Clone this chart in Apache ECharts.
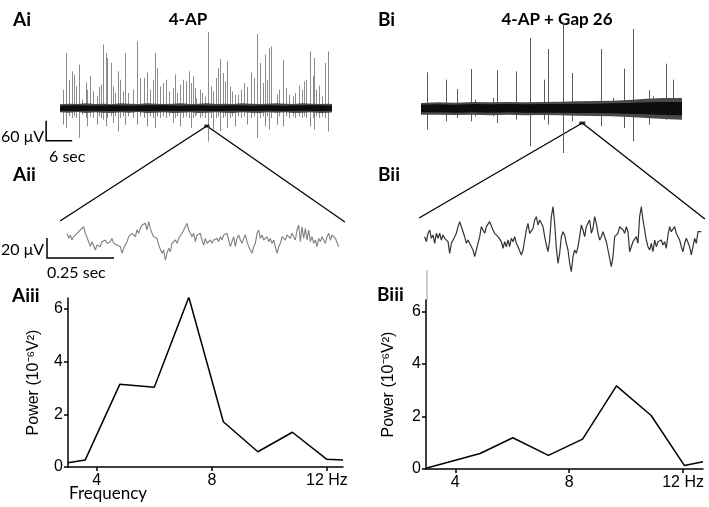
<!DOCTYPE html>
<html><head><meta charset="utf-8">
<script src="https://cdn.jsdelivr.net/npm/echarts@6/dist/echarts.min.js"></script>
<style>html,body{margin:0;padding:0;background:#fff}#c{width:709px;height:507px}</style>
</head><body><div id="c"></div>
<script>
// ---------- Ai : 4-AP long trace (time s, µV) ----------
const aSpikeT = [0.8,1.4,2.1,2.7,3.2,3.8,4.4,5.0,5.9,6.3,6.9,7.7,8.5,9.0,9.4,10.0,10.6,10.9,11.7,12.2,12.7,13.5,13.8,14.6,15.0,15.8,16.8,17.8,18.5,19.4,20.0,20.8,21.4,21.9,22.5,23.1,23.8,24.5,25.2,26.0,26.5,27.1,27.7,28.5,29.1,29.8,30.2,30.6,31.2,31.5,32.3,32.9,33.5,34.1,34.8,35.4,36.0,36.5,36.9,37.7,38.1,38.6,39.2,39.8,40.4,41.2,41.7,42.5,43.2,44.2,44.8,45.4,46.2,46.8,47.3,47.8,48.3,48.8,50.0,50.6,51.4,52.2,52.9,53.7,54.2,55.2,55.8,56.3,56.9,57.8,58.3,58.6,59.2,59.8,60.6,61.2,61.9];
const aSpikeUp = [55,165,85,110,100,65,130,25,77,55,97,50,37,63,70,190,165,150,135,65,45,110,85,50,165,45,55,200,90,90,107,55,85,165,120,65,75,85,50,60,100,45,70,85,80,110,75,95,60,30,55,45,35,228,65,50,90,120,147,105,80,140,65,50,40,40,55,75,63,107,90,222,135,75,160,85,180,185,40,55,145,60,40,35,45,67,55,80,85,170,95,150,55,67,35,135,170];
const aSpikeDown = [-50,-60,-25,-30,-25,-30,-90,-20,-30,-55,-25,-30,-50,-25,-30,-35,-55,-30,-25,-45,-25,-70,-30,-25,-50,-25,-30,-50,-25,-30,-55,-25,-30,-60,-25,-30,-25,-30,-25,-45,-30,-25,-55,-30,-25,-30,-60,-30,-25,-20,-30,-25,-30,-100,-30,-65,-30,-25,-70,-30,-25,-60,-30,-25,-55,-25,-30,-25,-50,-30,-25,-90,-30,-25,-55,-25,-65,-30,-50,-25,-55,-25,-30,-25,-30,-25,-30,-25,-30,-55,-30,-65,-25,-30,-25,-30,-70];
const aBandT = [0,2,4,6,8,10,12,14,16,18,20,22,24,26,28,30,32,34,36,38,40,42,44,46,48,50,52,54,56,58,60,62,62.8];
const aBandHi = [11,13,12,14,12,13,11,14,13,12,14,13,12,13,14,12,13,14,12,13,12,14,13,12,13,14,13,12,14,13,12,13,12];
const aBandLo = [-13,-14,-12,-15,-13,-14,-15,-13,-14,-12,-15,-14,-13,-15,-14,-13,-15,-14,-13,-14,-15,-13,-14,-15,-13,-14,-13,-15,-14,-13,-15,-14,-13];
const aCoreT = [0,4,8,12,16,20,24,28,32,36,40,44,48,52,56,60,62.8];
const aCoreHi = [7,8,7,8,7,8,8,7,8,7,8,7,8,7,8,8,7];
const aCoreLo = [-8,-9,-8,-9,-8,-9,-8,-9,-8,-9,-8,-9,-8,-9,-8,-9,-8];

// ---------- Bi : 4-AP + Gap 26 long trace ----------
const bSpikeT = [1.3,5.7,8.2,11.5,12.5,16.7,17.6,21.8,25.2,28.4,29.2,32.7,32.8,34.8,41.5,44.4,46.9,48.8,52.5,53.6,56.5,58.1];
const bSpikeUp = [107,85,57,117,25,30,113,110,210,85,177,130,257,105,177,30,118,237,53,35,133,85];
const bSpikeDown = [-65,-40,-30,-40,-25,-25,-45,-35,-115,-35,-50,-60,-135,-40,-55,-25,-60,-100,-50,-30,-35,-20];
const bBandT = [0,4,8,12,16,20,24,28,32,36,40,44,48,52,56,60.2];
const bBandHi = [15,17,16,18,17,18,17,18,19,20,21,22,24,28,30,30];
const bBandLo = [-20,-20,-21,-20,-22,-20,-22,-21,-22,-23,-24,-25,-27,-30,-33,-35];
const bCoreHi = [10,11,10,12,11,12,11,12,12,13,13,14,15,17,18,18];
const bCoreLo = [-13,-13,-14,-13,-14,-13,-14,-14,-14,-15,-15,-16,-17,-19,-21,-22];

// ---------- Aii / Bii : expanded 1 s traces (µV) ----------
const sampleDt = 0.00622; // s between samples
const aiiValues = [6.7,1.7,5,0,3.3,1.7,6.7,5,10,11.7,13.3,6.7,5,-1.7,-6.7,-1.7,-3.3,-10,-5,-3.3,-6.7,-1.7,-3.3,0,-3.3,-1.7,-1.7,1.7,-3.3,-1.7,-5,-3.3,-6.7,-13.3,-8.3,-6.7,-1.7,3.3,1.7,6.7,8.3,3.3,10,6.7,11.7,15,13.3,16.7,10,18.3,11.7,6.7,3.3,5,1.7,-5,-6.7,-13.3,-10,-20,-13.3,-8.3,-11.7,-3.3,-5,0,-3.3,1.7,0,6.7,5,13.3,16.7,10,6.7,3.3,6.7,-1.7,5,3.3,6.7,0,-5,
1.7,-3.3,-1.7,0,-3.3,0,-1.7,1.7,-1.7,3.3,0,5,3.3,6.7,0,-6.7,-1.7,3.3,-6.7,1.7,5,0,-3.3,1.7,5,-1.7,-6.7,-5,-13.3,-6.7,-3.3,6.7,10,1.7,5,0,0,3.3,-1.7,1.7,-3.3,0,-6.7,-13.3,-6.7,-3.3,3.3,1.7,0,5,3.3,1.7,6.7,3.3,0,10,15,-1.7,13.3,1.7,11.7,0,10,-1.7,3.3,-3.3,0,-6.7,1.7,-1.7,3.3,0,-3.3,3.3,6.7,0,5,6.7,1.7,1.7,-6.7];
const biiValues = [3.3,-1.7,6.7,10,1.7,5,-3.3,6.7,1.7,6.7,0,5,1.7,3.3,-1.7,-13.3,-3.3,0,3.3,6.7,13.3,18.3,16.7,8.3,3.3,-3.3,0,-3.3,-6.7,-10,-16.7,-10,-8.3,3.3,13.3,10,6.7,13.3,11.7,18.3,16.7,10,6.7,5,3.3,1.7,-1.7,-8.3,-1.7,-6.7,0,-6.7,1.7,-1.7,3.3,-3.3,-6.7,-8.3,-15,-10,0,10,16.7,6.7,8.3,11.7,20,23.3,15,20,16.7,13.3,3.3,-5,-11.7,0,23.3,33.3,16.7,-8.3,-23.3,-13.3,3.3,8.3,
5,-3.3,-10,-23.3,-31.7,-16.7,-10,-13.3,-6.7,3.3,15,10,3.3,13.3,16.7,20,6.7,11.7,23.3,16.7,6.7,0,3.3,8.3,3.3,-1.7,-10,-18.3,-26.7,-16.7,3.3,5,6.7,13.3,15,10,6.7,13.3,8.3,-11.7,-6.7,-1.7,-3.3,3.3,-3.3,23.3,33.3,20,10,0,-6.7,-10,-3.3,-11.7,0,-6.7,-1.7,-3.3,0,-5,-1.7,-8.3,5,13.3,8.3,6.7,13.3,6.7,5,0,-6.7,-11.7,-3.3,1.7,0,-6.7,-15,-6.7,1.7,-3.3,8.3,6.7,8.3];

// ---------- Aiii / Biii : power spectra ----------
const freqA = [3.0,3.6,4.8,6.0,7.2,8.4,9.6,10.8,12.0,12.56];
const powerA = [0.16,0.27,3.14,3.03,6.45,1.72,0.58,1.32,0.29,0.27];
const freqB = [3.0,4.87,6.02,7.27,8.47,9.66,10.88,12.05,12.7];
const powerB = [0.04,0.59,1.19,0.52,1.14,3.17,2.04,0.13,0.28];
const freqTicks = [4,8,12];
const powerTicks = [0,2,4,6];

// ---------- markers / zoom links / scale bars (data coords) ----------
const aMarker = [33.9,-54], bMarker = [37.2,-45];
const aiiEnds = [[-0.026,19],[1.037,18]], biiEnds = [[-0.021,22],[1.046,21]];
const aiScaleBar = [[-3.2,-38],[-3.2,-98],[2.8,-98]];      // 60 µV, 6 s
const aiiScaleBar = [[-0.0746,2],[-0.0746,-18],[0.1754,-18]]; // 20 µV, 0.25 s
const biiFragment = [[0.0086,-30],[0.0086,-60]];

const chart = echarts.init(document.getElementById('c'));
const labelFont = {fontFamily:'Liberation Sans, Arial, sans-serif', fontSize:16, color:'#000'};

function spikeRender(color){
  return function(params, api){
    const p1 = api.coord([api.value(0), api.value(1)]);
    const p2 = api.coord([api.value(0), api.value(2)]);
    const x = Math.round(p1[0]) + 0.5;
    return {type:'line', shape:{x1:x,y1:p1[1],x2:x,y2:p2[1]}, style:{stroke:color, lineWidth:1}};
  };
}
function bandRender(T,H,L,color){
  return function(params, api){
    const pts = [];
    for (let i=0;i<T.length;i++) pts.push(api.coord([T[i],H[i]]));
    for (let i=T.length-1;i>=0;i--) pts.push(api.coord([T[i],L[i]]));
    return {type:'polygon', shape:{points:pts}, style:{fill:color}};
  };
}
function traceAxes(i, xmax, ymin, ymax){
  return {
    x:{type:'value', gridIndex:i, min:0, max:xmax, show:false},
    y:{type:'value', gridIndex:i, min:ymin, max:ymax, show:false}
  };
}
const g0 = traceAxes(0,62.8,-120,240), g1 = traceAxes(1,60.2,-120,240),
      g2 = traceAxes(2,1.015,-40,40), g3 = traceAxes(3,1.034,-40,40);

function specX(i, min, max){
  return {type:'value', gridIndex:i, min:min, max:max,
    axisLine:{show:true, lineStyle:{color:'#000', width:1.5}},
    axisTick:{show:true, length:4, customValues:freqTicks, lineStyle:{color:'#000', width:1.5}},
    axisLabel:Object.assign({customValues:freqTicks, margin:6, formatter:v=> v===12 ? '12 Hz' : String(v)}, labelFont),
    splitLine:{show:false}};
}
function specY(i, max, gap){
  return {type:'value', gridIndex:i, min:0, max:max,
    name:'Power (10⁻⁶V²)', nameLocation:'middle', nameGap:gap, nameRotate:90,
    nameTextStyle:{fontFamily:'Liberation Sans, Arial, sans-serif', fontSize:16, color:'#000'},
    axisLine:{show:true, lineStyle:{color:'#000', width:1.5}},
    axisTick:{show:true, length:4, customValues:powerTicks, lineStyle:{color:'#000', width:1.5}},
    axisLabel:Object.assign({customValues:powerTicks, margin:5}, labelFont),
    splitLine:{show:false}};
}

const option = {
  animation:false,
  backgroundColor:'#fff',
  grid:[
    {left:60, top:28, width:272, height:120},
    {left:421, top:28, width:261, height:120},
    {left:67, top:200, width:272, height:80},
    {left:424.7, top:200, width:277, height:80},
    {left:68, top:298, width:275, height:169},
    {left:426, top:300, width:277, height:169}
  ],
  xAxis:[g0.x,g1.x,g2.x,g3.x, specX(4,3,12.56), specX(5,2.97,12.7)],
  yAxis:[g0.y,g1.y,g2.y,g3.y, specY(4,6.42,26), specY(5,6.44,29)],
  series:[
    {type:'custom', xAxisIndex:0, yAxisIndex:0, renderItem:spikeRender('#8c8c8c'), encode:{x:0,y:[1,2]},
      data:aSpikeT.map((t,i)=>[t,aSpikeUp[i],aSpikeDown[i]])},
    {type:'custom', xAxisIndex:0, yAxisIndex:0, renderItem:bandRender(aBandT,aBandHi,aBandLo,'#4a4a4a'), data:[[0,0]]},
    {type:'custom', xAxisIndex:0, yAxisIndex:0, renderItem:bandRender(aCoreT,aCoreHi,aCoreLo,'#0d0d0d'), data:[[0,0]]},
    {type:'custom', xAxisIndex:1, yAxisIndex:1, renderItem:spikeRender('#5a5a5a'), encode:{x:0,y:[1,2]},
      data:bSpikeT.map((t,i)=>[t,bSpikeUp[i],bSpikeDown[i]])},
    {type:'custom', xAxisIndex:1, yAxisIndex:1, renderItem:bandRender(bBandT,bBandHi,bBandLo,'#4a4a4a'), data:[[0,0]]},
    {type:'custom', xAxisIndex:1, yAxisIndex:1, renderItem:bandRender(bBandT,bCoreHi,bCoreLo,'#0d0d0d'), data:[[0,0]]},
    {type:'scatter', xAxisIndex:0, yAxisIndex:0, symbol:'rect', symbolSize:[5,3], itemStyle:{color:'#000'}, data:[aMarker], z:5},
    {type:'scatter', xAxisIndex:1, yAxisIndex:1, symbol:'rect', symbolSize:[6,3], itemStyle:{color:'#000'}, data:[bMarker], z:5},
    {type:'line', xAxisIndex:2, yAxisIndex:2, showSymbol:false, lineStyle:{color:'#808080', width:1.1},
      data:aiiValues.map((v,i)=>[i*sampleDt, v])},
    {type:'line', xAxisIndex:3, yAxisIndex:3, showSymbol:false, lineStyle:{color:'#333', width:1.2},
      data:biiValues.map((v,i)=>[i*sampleDt, v])},
    {type:'line', xAxisIndex:4, yAxisIndex:4, showSymbol:false, lineStyle:{color:'#000', width:1.5},
      data:freqA.map((f,i)=>[f,powerA[i]])},
    {type:'line', xAxisIndex:5, yAxisIndex:5, showSymbol:false, lineStyle:{color:'#000', width:1.5},
      data:freqB.map((f,i)=>[f,powerB[i]])}
  ]
};
chart.setOption(option);

function px(grid, pt){ return chart.convertToPixel({gridIndex:grid}, pt); }
const bold = {fontFamily:'Lato, Open Sans, sans-serif', fontWeight:'bold', fill:'#000'};
const plain = {fontFamily:'Lato, Open Sans, sans-serif', fontSize:16, fill:'#000'};
function txt(x,y,text,style,align){
  return {type:'text', x:x, y:y, style:Object.assign({text:text, textAlign:align||'left', textVerticalAlign:'middle'}, style)};
}
const graphics = [
  txt(13,20,'Ai',Object.assign({fontSize:19},bold)),
  txt(188,20,'4-AP',Object.assign({fontSize:17},bold),'center'),
  txt(378,20,'Bi',Object.assign({fontSize:19},bold)),
  txt(557,20,'4-AP + Gap 26',Object.assign({fontSize:17},bold),'center'),
  txt(13,175,'Aii',Object.assign({fontSize:19},bold)),
  txt(378,175,'Bii',Object.assign({fontSize:19},bold)),
  txt(12,296,'Aiii',Object.assign({fontSize:19},bold)),
  txt(377,295,'Biii',Object.assign({fontSize:19},bold)),
  txt(1,137,'60 μV',plain),
  txt(49,157,'6 sec',plain),
  txt(1,250,'20 μV',plain),
  txt(47,273,'0.25 sec',plain),
  txt(69,494,'Frequency',Object.assign({},plain,{fontSize:17}))
];
function line(a,b,color,w){
  return {type:'line', shape:{x1:a[0],y1:a[1],x2:b[0],y2:b[1]}, style:{stroke:color||'#000', lineWidth:w||1.3}};
}
function poly(grid, pts, color, w){
  return {type:'polyline', shape:{points:pts.map(p=>px(grid,p))}, style:{stroke:color||'#000', lineWidth:w||1.5, fill:null}};
}
const am = px(0,aMarker), bm = px(1,bMarker);
graphics.push(line(am, px(2,aiiEnds[0])), line(am, px(2,aiiEnds[1])));
graphics.push(line(bm, px(3,biiEnds[0])), line(bm, px(3,biiEnds[1])));
graphics.push(poly(0, aiScaleBar, '#000', 1.5));
graphics.push(poly(2, aiiScaleBar, '#000', 1.5));
graphics.push(poly(3, biiFragment, '#bbb', 1.5));
chart.setOption({graphic:graphics});
</script>
</body></html>
